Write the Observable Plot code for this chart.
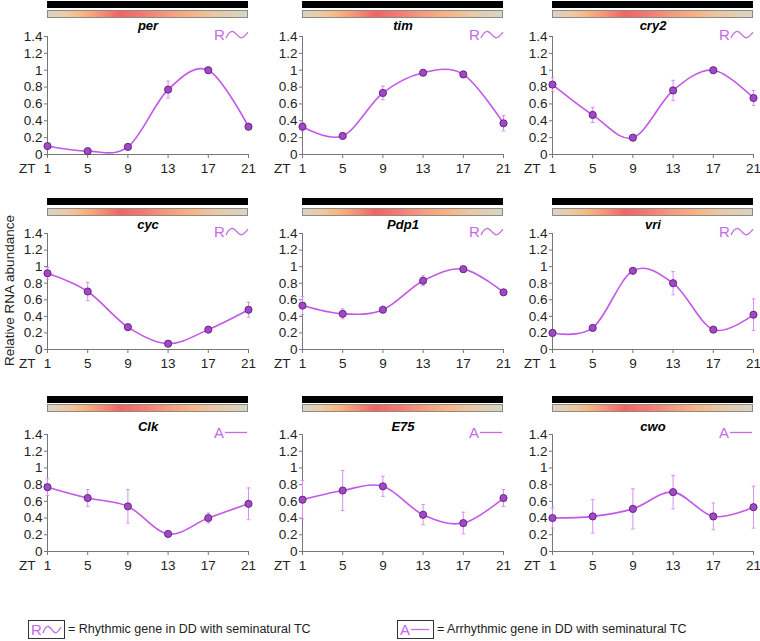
<!DOCTYPE html>
<html>
<head>
<meta charset="utf-8">
<script src="https://cdn.jsdelivr.net/npm/d3@7"></script>
<script src="https://cdn.jsdelivr.net/npm/@observablehq/plot@0.6"></script>
<style>
  html, body { margin: 0; padding: 0; background: #fff; }
  #root { position: relative; width: 760px; height: 641px; font-family: "Liberation Sans", Arial, sans-serif; overflow: hidden; }
  .abs { position: absolute; }
  .blackbar { background: #000; }
  .gradbar { box-sizing: border-box; border: 1px solid #8a8a8a;
    background: linear-gradient(to right, #d8d5c6 0%, #efc9a0 10%, #f8b47e 18%, #f78a72 28%, #f46262 36%, #f57a72 48%, #f69a7c 60%, #f8b482 72%, #e9c8a4 84%, #d8d5c6 100%); }
  .sym { color: #c56ae8; font-size: 15px; line-height: 15px; display: flex; align-items: center; }
  .ylab { transform: rotate(-90deg); transform-origin: center center; font-size: 13.5px; color: #222; white-space: nowrap; }
  .legtxt { font-size: 12.5px; color: #222; white-space: nowrap; }
  .legbox { box-sizing: border-box; border: 1px solid #333; display: flex; align-items: center; padding-left: 2px; }
</style>
</head>
<body>
<div id="root"></div>
<script>
// ---- data ----
const zt = [1, 5, 9, 13, 17, 21];
const genes = ["per", "tim", "cry2", "cyc", "Pdp1", "vri", "Clk", "E75", "cwo"];
const rhythmic = [true, true, true, true, true, true, false, false, false];
const yTicks = [0, 0.2, 0.4, 0.6, 0.8, 1, 1.2, 1.4];

const perVals  = [0.10, 0.04, 0.09, 0.77, 1.00, 0.33];
const perErr   = [0.02, 0.01, 0.01, 0.10, 0.01, 0.02];
const timVals  = [0.33, 0.22, 0.73, 0.97, 0.95, 0.37];
const timErr   = [0.05, 0.02, 0.08, 0.03, 0.03, 0.09];
const cry2Vals = [0.83, 0.47, 0.20, 0.76, 1.00, 0.67];
const cry2Err  = [0.08, 0.09, 0.02, 0.12, 0.01, 0.09];
const cycVals  = [0.92, 0.70, 0.27, 0.07, 0.24, 0.48];
const cycErr   = [0.07, 0.11, 0.02, 0.01, 0.02, 0.09];
const pdp1Vals = [0.53, 0.43, 0.48, 0.83, 0.97, 0.69];
const pdp1Err  = [0.11, 0.06, 0.03, 0.06, 0.02, 0.02];
const vriVals  = [0.20, 0.26, 0.95, 0.80, 0.24, 0.42];
const vriErr   = [0.02, 0.02, 0.02, 0.14, 0.02, 0.19];
const clkVals  = [0.77, 0.64, 0.54, 0.21, 0.40, 0.57];
const clkErr   = [0.10, 0.10, 0.20, 0.02, 0.06, 0.19];
const e75Vals  = [0.62, 0.73, 0.78, 0.44, 0.34, 0.64];
const e75Err   = [0.23, 0.24, 0.12, 0.12, 0.13, 0.10];
const cwoVals  = [0.40, 0.42, 0.51, 0.71, 0.42, 0.53];
const cwoErr   = [0.12, 0.20, 0.24, 0.20, 0.16, 0.25];

const allVals = [perVals, timVals, cry2Vals, cycVals, pdp1Vals, vriVals, clkVals, e75Vals, cwoVals];
const allErr  = [perErr, timErr, cry2Err, cycErr, pdp1Err, vriErr, clkErr, e75Err, cwoErr];

const yLabel = "Relative RNA abundance";
const legendR = "= Rhythmic gene in DD with seminatural TC";
const legendA = "= Arrhythmic gene in DD with seminatural TC";

// ---- layout ----
const colX = [47, 302, 552];
const plotW = 201;
const rowTop = [36, 233, 434];
const rowBot = [154, 349, 551];
const blackOff = [-35, -35, -38];
const gradOff = [-26, -25, -30];
const titleDy = [-16, -14, -13];
const mL = 40, mR = 10, mT = 40, mB = 28;

const lineColor = "#c358e8";
const dotFill = "#a048c6";
const dotStroke = "#5e1f78";
const errColor = "#d98ff0";
const fmt = d => String(+d.toFixed(1));

const root = document.getElementById("root");

function wave(w, h) {
  return `<svg width="${w}" height="${h}" viewBox="0 0 ${w} ${h}"><path d="M1 ${h-1} C ${w*0.15} ${h*0.3}, ${w*0.22} ${1}, ${w*0.32} ${1.5} C ${w*0.45} ${2}, ${w*0.55} ${h-1}, ${w*0.68} ${h-1.2} C ${w*0.8} ${h-1.5}, ${w*0.9} ${h*0.4}, ${w-1} ${h*0.25}" fill="none" stroke="#c56ae8" stroke-width="1.3"/></svg>`;
}
function flat(w, h) {
  return `<svg width="${w}" height="${h}" viewBox="0 0 ${w} ${h}"><line x1="1" x2="${w-1}" y1="${h/2}" y2="${h/2}" stroke="#c56ae8" stroke-width="1.3"/></svg>`;
}

genes.forEach((gene, i) => {
  const r = Math.floor(i / 3), c = i % 3;
  const x0 = colX[c], yT = rowTop[r], yB = rowBot[r];
  const h = yB - yT;
  const data = zt.map((z, j) => ({x: z, y: allVals[i][j], e: allErr[i][j]}));

  const svg = Plot.plot({
    width: mL + plotW + mR,
    height: mT + h + mB,
    marginLeft: mL, marginRight: mR, marginTop: mT, marginBottom: mB,
    x: {domain: [1, 21], axis: null},
    y: {domain: [0, 1.4], axis: null},
    style: {fontFamily: "'Liberation Sans', Arial, sans-serif", fontSize: "13.5px", color: "#222", background: "transparent", overflow: "visible"},
    marks: [
      Plot.axisY({ticks: yTicks, tickFormat: fmt, tickSize: 3, tickPadding: 2, label: null, stroke: "#777", fontSize: 13.5}),
      Plot.axisX({ticks: zt, tickFormat: d => String(d), tickSize: 4, tickPadding: 5, label: null, stroke: "#777", fontSize: 13.5}),
      Plot.ruleX([1], {stroke: "#777"}),
      Plot.ruleY([0], {stroke: "#777"}),
      Plot.ruleX(data, {x: "x", y1: d => d.y - d.e, y2: d => d.y + d.e, stroke: errColor, strokeWidth: 1}),
      Plot.link(data, {x1: d => d.x - 0.18, x2: d => d.x + 0.18, y1: d => d.y - d.e, y2: d => d.y - d.e, stroke: errColor}),
      Plot.link(data, {x1: d => d.x - 0.18, x2: d => d.x + 0.18, y1: d => d.y + d.e, y2: d => d.y + d.e, stroke: errColor}),
      Plot.line(data, {x: "x", y: "y", curve: "cardinal", stroke: lineColor, strokeWidth: 1.6}),
      Plot.dot(data, {x: "x", y: "y", r: 3.6, fill: dotFill, stroke: dotStroke, strokeWidth: 0.9}),
      Plot.text([gene], {frameAnchor: "top", dy: titleDy[r], fontWeight: "bold", fontStyle: "italic", fontSize: 13, fill: "#000"}),
      Plot.text(["ZT"], {frameAnchor: "bottom-left", textAnchor: "end", lineAnchor: "middle", dx: -12, dy: 14, fontSize: 13.5, fill: "#222"})
    ]
  });
  svg.style.position = "absolute";
  svg.style.left = (x0 - mL) + "px";
  svg.style.top = (yT - mT) + "px";
  svg.style.overflow = "visible";

  const bb = document.createElement("div");
  bb.className = "abs blackbar";
  Object.assign(bb.style, {left: x0 + "px", top: (yT + blackOff[r]) + "px", width: plotW + "px", height: "7px"});
  root.appendChild(bb);

  const gb = document.createElement("div");
  gb.className = "abs gradbar";
  Object.assign(gb.style, {left: x0 + "px", top: (yT + gradOff[r]) + "px", width: plotW + "px", height: "8px"});
  root.appendChild(gb);

  root.appendChild(svg);

  const sym = document.createElement("div");
  sym.className = "abs sym";
  sym.innerHTML = rhythmic[i] ? ("R" + wave(24, 9)) : ("A" + flat(24, 9));
  Object.assign(sym.style, {left: (x0 + plotW - 34) + "px", top: (yT - 9) + "px"});
  root.appendChild(sym);
});

// y label
const yl = document.createElement("div");
yl.className = "abs ylab";
yl.textContent = yLabel;
root.appendChild(yl);
const ylw = yl.offsetWidth, ylh = yl.offsetHeight;
Object.assign(yl.style, {left: (9 - ylw / 2) + "px", top: (290 - ylh / 2) + "px"});

// legend
function legendItem(x, isR, text) {
  const box = document.createElement("div");
  box.className = "abs legbox sym";
  box.innerHTML = isR ? ("R" + wave(20, 9)) : ("A" + flat(20, 9));
  Object.assign(box.style, {left: x + "px", top: "620px", width: "37px", height: "19px"});
  root.appendChild(box);
  const t = document.createElement("div");
  t.className = "abs legtxt";
  t.textContent = text;
  Object.assign(t.style, {left: (x + 40) + "px", top: "622px"});
  root.appendChild(t);
}
legendItem(28, true, legendR);
legendItem(397, false, legendA);
</script>
</body>
</html>
